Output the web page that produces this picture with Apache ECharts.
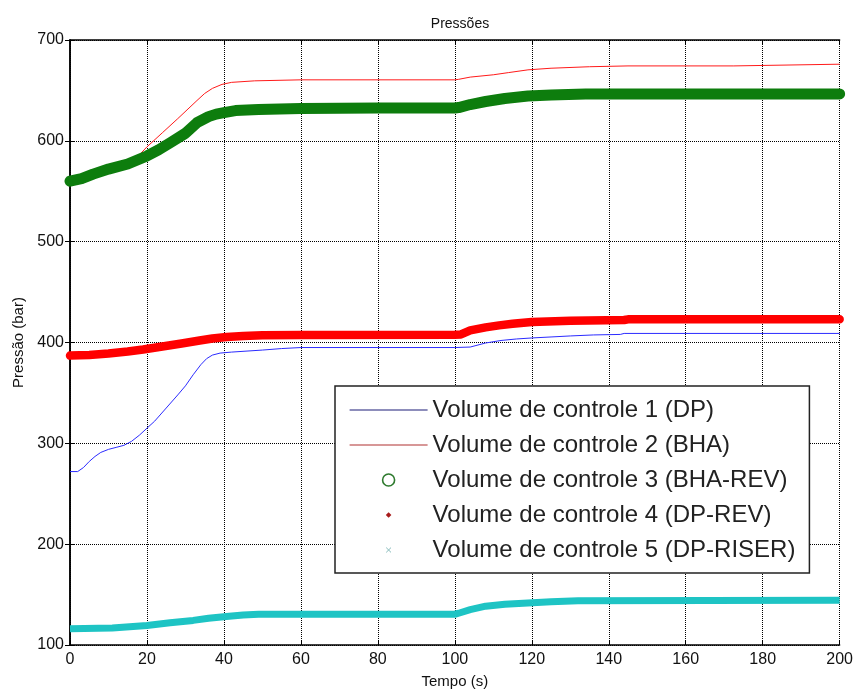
<!DOCTYPE html>
<html>
<head>
<meta charset="utf-8">
<script src="https://cdn.jsdelivr.net/npm/echarts@6/dist/echarts.min.js"></script>
<style>
html,body{margin:0;padding:0;background:#fff;}
#chart{width:856px;height:694px;}
</style>
</head>
<body>
<div id="chart"></div>
<script>
// ---- data ----
const seriesNames = [
  'Volume de controle 1 (DP)',
  'Volume de controle 2 (BHA)',
  'Volume de controle 3 (BHA-REV)',
  'Volume de controle 4 (DP-REV)',
  'Volume de controle 5 (DP-RISER)'
];
const xTicks = [0, 20, 40, 60, 80, 100, 120, 140, 160, 180, 200];
const yTicks = [100, 200, 300, 400, 500, 600, 700];

const tDP = [0, 2, 3.5, 5, 6.5, 8, 10, 12, 14, 16, 18, 20, 22, 25, 28, 30, 32, 34, 35.5, 37, 39, 42, 46, 50, 55, 60, 80, 100, 104, 108, 112, 116, 120, 125, 130, 136, 143, 144, 200];
const pDP = [272, 272, 276, 282, 287, 291, 294, 296, 298, 302, 308, 315, 322, 335, 348, 357, 368, 378, 384, 387.5, 389.5, 390.5, 391.5, 392.5, 394, 395, 395, 395, 395.5, 399.5, 402, 403.5, 404.5, 405.5, 406.5, 407.5, 408, 409, 409];

const tBHA = [0, 5, 10, 14, 17, 20, 24, 28, 33, 35, 37, 39.5, 42, 48, 60, 100, 101, 104, 110, 114, 119, 125, 135, 145, 172.5, 173, 200];
const pBHA = [560, 565.5, 572, 576, 582, 594, 608, 622, 640, 647, 652, 656, 658, 659.5, 660.5, 660.5, 661, 663.2, 665.5, 667.7, 670.4, 672, 673.5, 674.3, 674.3, 676, 676];

const tBHAREV = [0, 3, 6, 10, 15, 20, 23, 26, 30, 33, 36, 38, 40, 43, 49, 60, 80, 100, 101, 104, 108, 113, 119, 125, 134, 150, 200];
const pBHAREV = [560, 562.5, 567, 572, 577, 585, 591, 598, 607.5, 618, 624, 626.5, 628, 630, 631, 632, 632.5, 632.5, 633, 636, 639, 642, 644.5, 645.5, 646.5, 646.5, 646.5];

const tDPREV = [0, 5, 10, 15, 19, 24, 29, 33.7, 37, 40.7, 45, 50, 60, 100, 101.6, 104, 108, 111.5, 115, 120, 130, 144, 145, 200];
const pDPREV = [387, 387.5, 389, 391, 393, 396, 399, 402, 404, 405.5, 406.5, 407.2, 407.5, 407.8, 408, 412, 415, 417, 418.5, 420.4, 421.5, 422.3, 423, 423];

const tRISER = [0, 11, 20, 26, 32, 36, 40.6, 45, 49, 60, 100, 101, 104, 108, 113, 119, 125, 132, 200];
const pRISER = [116, 116.8, 119.4, 122, 124.4, 126.5, 128.3, 129.8, 130.5, 130.5, 130.5, 131.5, 135, 138.5, 140.5, 141.7, 143, 144, 144.3];

function pairs(t, p) { return t.map((v, i) => [v, p[i]]); }

const FONT = 'Liberation Sans, Arial, sans-serif';
const chart = echarts.init(document.getElementById('chart'), null, {renderer: 'canvas'});

const baseX = {
  type: 'value', min: xTicks[0], max: xTicks[xTicks.length - 1], interval: xTicks[1] - xTicks[0]
};
const baseY = {
  type: 'value', min: yTicks[0], max: yTicks[yTicks.length - 1], interval: yTicks[1] - yTicks[0]
};

chart.setOption({
  animation: false,
  backgroundColor: '#ffffff',
  title: {
    text: 'Pressões', left: 455, top: 12, textAlign: 'center',
    textStyle: {fontFamily: FONT, fontSize: 14, fontWeight: 'normal', color: '#111'}
  },
  grid: {left: 70, right: 15, top: 40, bottom: 46, containLabel: false},
  xAxis: [
    Object.assign({}, baseX, {
      position: 'bottom',
      name: 'Tempo (s)', nameLocation: 'middle', nameGap: 29,
      nameTextStyle: {fontFamily: FONT, fontSize: 15, color: '#111'},
      axisLine: {lineStyle: {color: '#000', width: 1.5}},
      axisTick: {inside: true, length: 5, lineStyle: {color: '#000'}},
      axisLabel: {fontFamily: FONT, fontSize: 16, color: '#111', margin: 7},
      splitLine: {show: true, lineStyle: {color: '#000', width: 1, type: [1, 1]}}
    }),
    Object.assign({}, baseX, {
      position: 'top',
      axisLine: {lineStyle: {color: '#000', width: 1.5}},
      axisTick: {inside: true, length: 5, lineStyle: {color: '#000'}},
      axisLabel: {show: false},
      splitLine: {show: false}
    })
  ],
  yAxis: [
    Object.assign({}, baseY, {
      position: 'left',
      name: 'Pressão (bar)', nameLocation: 'middle', nameGap: 44, nameRotate: 90,
      nameTextStyle: {fontFamily: FONT, fontSize: 15, color: '#111'},
      axisLine: {show: true, lineStyle: {color: '#000', width: 1.5}},
      axisTick: {show: true, inside: true, length: 5, lineStyle: {color: '#000'}},
      axisLabel: {fontFamily: FONT, fontSize: 16, color: '#111', margin: 6},
      splitLine: {show: true, lineStyle: {color: '#000', width: 1, type: [1, 1]}}
    }),
    Object.assign({}, baseY, {
      position: 'right',
      axisLine: {show: true, lineStyle: {color: '#000', width: 1.5}},
      axisTick: {show: true, inside: true, length: 5, lineStyle: {color: '#000'}},
      axisLabel: {show: false},
      splitLine: {show: false}
    })
  ],
  legend: {
    orient: 'vertical',
    left: 335, top: 386,
    padding: [12, 14, 11, 14],
    itemWidth: 78, itemHeight: 12, itemGap: 11,
    backgroundColor: '#ffffff',
    borderColor: '#222', borderWidth: 1.5,
    textStyle: {fontFamily: FONT, fontSize: 24, color: '#222'},
    data: [
      {name: seriesNames[0], itemStyle: {opacity: 0}, lineStyle: {color: '#1c1c78', width: 1.2}},
      {name: seriesNames[1], itemStyle: {opacity: 0}, lineStyle: {color: '#b03030', width: 1.2}},
      {name: seriesNames[2], icon: 'circle', itemStyle: {color: 'rgba(0,0,0,0)', borderColor: '#2e7a2e', borderWidth: 1.6}},
      {name: seriesNames[3], icon: 'path://M0,0M12,12M6,3.2L8.8,6L6,8.8L3.2,6Z', itemStyle: {color: '#a81c1c', borderWidth: 0}},
      {name: seriesNames[4], icon: 'path://M0,0M12,12M3.6,3.6L8.4,8.4M8.4,3.6L3.6,8.4', itemStyle: {color: 'rgba(0,0,0,0)', borderColor: '#88bcbc', borderWidth: 1}}
    ]
  },
  series: [
    {
      name: seriesNames[0], type: 'line', data: pairs(tDP, pDP),
      symbol: 'none', showSymbol: false,
      lineStyle: {color: '#2b2bff', width: 1}, itemStyle: {color: '#2b2bff'}, z: 2
    },
    {
      name: seriesNames[1], type: 'line', data: pairs(tBHA, pBHA),
      symbol: 'none', showSymbol: false,
      lineStyle: {color: '#ff1a1a', width: 1}, itemStyle: {color: '#ff1a1a'}, z: 3
    },
    {
      name: seriesNames[2], type: 'line', data: pairs(tBHAREV, pBHAREV),
      symbol: 'none', showSymbol: false, clip: false,
      lineStyle: {color: '#0d7d0d', width: 11, cap: 'round', join: 'round'}, itemStyle: {color: '#0d7d0d'}, z: 4
    },
    {
      name: seriesNames[3], type: 'line', data: pairs(tDPREV, pDPREV),
      symbol: 'none', showSymbol: false, clip: false,
      lineStyle: {color: '#ff0000', width: 8.5, cap: 'round', join: 'round'}, itemStyle: {color: '#ff0000'}, z: 5
    },
    {
      name: seriesNames[4], type: 'line', data: pairs(tRISER, pRISER),
      symbol: 'none', showSymbol: false, clip: false,
      lineStyle: {color: '#1ec4c4', width: 7, cap: 'butt', join: 'round'}, itemStyle: {color: '#1ec4c4'}, z: 6
    }
  ]
});
</script>
</body>
</html>
